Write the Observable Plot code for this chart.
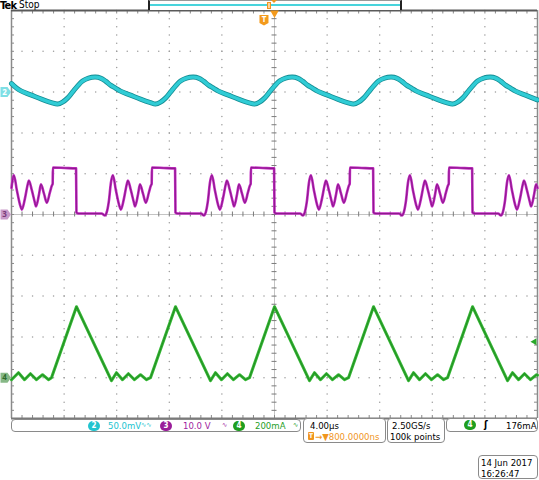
<!DOCTYPE html>
<html><head><meta charset="utf-8">
<script src="https://cdn.jsdelivr.net/npm/d3@7"></script>
<script src="https://cdn.jsdelivr.net/npm/@observablehq/plot@0.6"></script>
<style>
html,body{margin:0;padding:0;background:#fff;}
#wrap{position:relative;width:539px;height:480px;overflow:hidden;font-family:"DejaVu Sans Condensed","DejaVu Sans",sans-serif;font-stretch:condensed;font-size:9.5px;color:#000;}
#chart{position:absolute;left:0;top:0;}
.abs{position:absolute;white-space:nowrap;line-height:1;}
.box{position:absolute;border:1px solid #8a8a8a;border-radius:4px;box-sizing:border-box;background:#fff;}
.badge{position:absolute;height:10px;width:12px;border-radius:5px;color:#fff;font-size:8px;font-weight:bold;text-align:center;line-height:10px;}
</style></head><body>
<div id="wrap">
  <div id="chart"></div>
  <!-- top status -->
  <div class="abs" style="left:0;top:0px;font-size:11px;font-weight:bold;letter-spacing:-0.7px;">Tek</div>
  <div class="abs" style="left:19px;top:0px;font-size:10px;">Stop</div>
  <div style="position:absolute;left:148px;top:0;width:254px;height:10px;box-sizing:border-box;border-left:2px solid #222;border-right:2px solid #222;border-top:1px solid #999;background:#fff;"></div>
  <div style="position:absolute;left:150px;top:4px;width:250px;height:2px;background:#48d4dc;"></div>
  <div style="position:absolute;left:267px;top:2px;width:4px;height:7px;box-sizing:border-box;border:1px solid #f0961e;background:#fcd49a;"></div>
  <div style="position:absolute;left:271px;top:0;width:0;height:0;border-left:3px solid transparent;border-right:3px solid transparent;border-top:3px solid #f0961e;"></div>
  <!-- bottom status -->
  <div class="box" style="left:11px;top:419px;width:290px;height:13px;"></div>
  <div class="badge" style="left:88px;top:421px;background:#22c4cf;">2</div>
  <div class="abs" id="ch2lab" style="left:108px;top:421px;color:#22c4cf;"></div>
  <div class="abs" style="left:141px;top:422px;color:#22c4cf;font-size:7px;">∿∿</div>
  <div class="badge" style="left:160px;top:421px;background:#9a1e9a;">3</div>
  <div class="abs" id="ch3lab" style="left:183px;top:421px;color:#a01ca0;"></div>
  <div class="abs" style="left:222px;top:422px;color:#a01ca0;font-size:7px;">∿</div>
  <div class="badge" style="left:233px;top:421px;background:#1f9e1f;">4</div>
  <div class="abs" id="ch4lab" style="left:255px;top:421px;color:#1f9e1f;"></div>
  <div class="abs" style="left:293px;top:422px;color:#1f9e1f;font-size:7px;">∿</div>

  <div class="box" style="left:303px;top:418px;width:83px;height:25px;"></div>
  <div class="abs" id="tblab" style="left:310px;top:421px;"></div>
  <div class="abs" style="left:308px;top:432px;width:6px;height:8px;background:#f0961e;border-radius:1px;color:#fff;font-size:6.5px;font-weight:bold;text-align:center;line-height:8px;">T</div>
  <div class="abs" id="dellab" style="left:315px;top:432px;color:#f0961e;"></div>

  <div class="box" style="left:387px;top:418px;width:58px;height:25px;"></div>
  <div class="abs" id="srlab" style="left:392px;top:421px;"></div>
  <div class="abs" id="rllab" style="left:390px;top:432px;"></div>

  <div class="box" style="left:446px;top:418px;width:92px;height:14px;"></div>
  <div class="badge" style="left:464px;top:420px;background:#1f9e1f;">4</div>
  <div class="abs" style="left:484px;top:420px;font-weight:bold;font-size:10px;">ʃ</div>
  <div class="abs" id="trlab" style="left:506px;top:421px;"></div>

  <div class="box" style="left:478px;top:455px;width:60px;height:24px;"></div>
  <div class="abs" id="datelab" style="left:481px;top:458px;"></div>
  <div class="abs" id="timelab" style="left:481px;top:469px;"></div>
</div>
<script>
// ---- channel settings / labels ----
const CH2_SCALE = 50, CH2_POS = 3;     // mV/div, divisions
const CH3_SCALE = 10, CH3_POS = 0;     // V/div
const CH4_SCALE = 200, CH4_POS = -4;   // mA/div
const TRIG_LEVEL = 176;                // mA
const TRIG_TIME = -0.8;                // µs (relative to screen centre)
const labels = {ch2lab:"50.0mV", ch3lab:"10.0 V", ch4lab:"200mA", tblab:"4.00µs",
  dellab:"→▼800.0000ns", srlab:"2.50GS/s", rllab:"100k points", trlab:"176mA",
  datelab:"14 Jun 2017", timelab:"16:26:47"};

// ---- channel 2 (mV) ----
const ch2Time = [-20.00,-19.62,-19.24,-18.48,-17.72,-16.96,
 -16.50,-16.12,-15.74,-15.36,-14.98,-14.60,-14.14,-13.61,-13.23,-12.85,-12.47,-12.09,-11.71,-10.95,-10.19,-9.43,
 -9.05,-8.67,-8.29,-7.91,-7.53,-7.15,-6.69,-6.16,-5.78,-5.40,-5.02,-4.64,-4.26,-3.50,-2.74,-1.98,
 -1.52,-1.14,-0.76,-0.38,0.00,0.38,0.84,1.37,1.75,2.13,2.51,2.89,3.27,4.03,4.79,5.55,
 6.01,6.39,6.77,7.15,7.53,7.91,8.37,8.90,9.28,9.66,10.04,10.42,10.80,11.56,12.32,13.08,
 13.54,13.92,14.30,14.68,15.06,15.44,15.90,16.43,16.81,17.19,17.57,17.95,18.33,19.09,19.85,20.00];
const ch2mV = [10.5,4.9,1.2,-3.7,-8.6,-12.9,
 -14.7,-12.3,-7.4,0,7.4,13.5,17.2,18.4,17.2,13.5,8.6,4.9,1.2,-3.7,-8.6,-12.9,
 -14.7,-12.3,-7.4,0,7.4,13.5,17.2,18.4,17.2,13.5,8.6,4.9,1.2,-3.7,-8.6,-12.9,
 -14.7,-12.3,-7.4,0,7.4,13.5,17.2,18.4,17.2,13.5,8.6,4.9,1.2,-3.7,-8.6,-12.9,
 -14.7,-12.3,-7.4,0,7.4,13.5,17.2,18.4,17.2,13.5,8.6,4.9,1.2,-3.7,-8.6,-12.9,
 -14.7,-12.3,-7.4,0,7.4,13.5,17.2,18.4,17.2,13.5,8.6,4.9,1.2,-3.7,-8.6,-9.5];

// ---- channel 3 (V) ----
const ch3Time = [-20.00,-19.82,-19.59,-19.36,-19.21,-18.98,-18.75,-18.68,-18.45,-18.22,-18.14,-17.91,-17.76,-17.53,-17.31,-17.08,-16.93,-16.87,-16.85,-15.95,-15.09,-15.06,-14.90,-13.15,
 -12.89,-12.82,-12.59,-12.44,-12.29,-12.06,-11.83,-11.68,-11.45,-11.22,-11.15,-10.92,-10.69,-10.61,-10.38,-10.23,-10.00,-9.78,-9.55,-9.40,-9.34,-9.32,-8.42,-7.56,-7.53,-7.37,-5.59,
 -5.36,-5.29,-5.06,-4.91,-4.76,-4.53,-4.30,-4.15,-3.92,-3.69,-3.62,-3.39,-3.16,-3.08,-2.85,-2.70,-2.47,-2.25,-2.02,-1.87,-1.81,-1.79,-0.89,-0.03,0.00,0.16,1.94,
 2.17,2.24,2.47,2.62,2.77,3.00,3.23,3.38,3.61,3.84,3.91,4.14,4.37,4.45,4.68,4.83,5.06,5.28,5.51,5.66,5.72,5.74,6.64,7.50,7.53,7.69,9.47,
 9.70,9.77,10.00,10.15,10.30,10.53,10.76,10.91,11.14,11.37,11.44,11.67,11.90,11.98,12.21,12.36,12.59,12.81,13.04,13.19,13.25,13.27,14.17,15.03,15.06,15.22,17.00,
 17.23,17.30,17.53,17.68,17.83,18.06,18.29,18.44,18.67,18.90,18.97,19.20,19.43,19.51,19.74,19.89,20.00];
const ch3Volt = [6.5,9.6,5.9,2.5,1.2,3.9,7.6,8.3,5.9,2.9,2.0,4.9,7.4,5.1,2.9,5.4,7.1,7.5,11.5,11.4,11.3,0.5,0.25,0.25,
 -0.25,0,3.4,7.8,9.6,5.9,2.5,1.2,3.9,7.6,8.3,5.9,2.9,2.0,4.9,7.4,5.1,2.9,5.4,7.1,7.5,11.5,11.4,11.3,0.5,0.25,0.25,
 -0.25,0,3.4,7.8,9.6,5.9,2.5,1.2,3.9,7.6,8.3,5.9,2.9,2.0,4.9,7.4,5.1,2.9,5.4,7.1,7.5,11.5,11.4,11.3,0.5,0.25,0.25,
 -0.25,0,3.4,7.8,9.6,5.9,2.5,1.2,3.9,7.6,8.3,5.9,2.9,2.0,4.9,7.4,5.1,2.9,5.4,7.1,7.5,11.5,11.4,11.3,0.5,0.25,0.25,
 -0.25,0,3.4,7.8,9.6,5.9,2.5,1.2,3.9,7.6,8.3,5.9,2.9,2.0,4.9,7.4,5.1,2.9,5.4,7.1,7.5,11.5,11.4,11.3,0.5,0.25,0.25,
 -0.25,0,3.4,7.8,9.6,5.9,2.5,1.2,3.9,7.6,8.3,5.9,2.9,2.0,4.9,7.4,6.5];

// ---- channel 4 (mA) ----
const ch4Time = [-20.00,-19.47,-19.01,-18.56,-18.10,-17.64,-17.19,-16.96,-15.06,
 -12.40,-12.02,-11.56,-11.11,-10.65,-10.19,-9.74,-9.43,-7.53,
 -4.87,-4.49,-4.03,-3.58,-3.12,-2.66,-2.21,-1.90,0.00,
 2.66,3.04,3.50,3.95,4.41,4.87,5.32,5.63,7.53,
 10.19,10.57,11.03,11.48,11.94,12.40,12.85,13.16,15.06,
 17.72,18.10,18.56,19.01,19.47,19.93,20.00];
const ch4mA = [-9.8,24.5,-9.8,19.6,-9.8,14.7,-9.8,0,348,
 -14.7,24.5,-9.8,19.6,-9.8,14.7,-9.8,0,348,
 -14.7,24.5,-9.8,19.6,-9.8,14.7,-9.8,0,348,
 -14.7,24.5,-9.8,19.6,-9.8,14.7,-9.8,0,348,
 -14.7,24.5,-9.8,19.6,-9.8,14.7,-9.8,0,348,
 -14.7,24.5,-9.8,19.6,-9.8,14.7,12];

for (const [id, txt] of Object.entries(labels)) document.getElementById(id).textContent = txt;

const ch2 = ch2Time.map((t, i) => ({t, y: ch2mV[i] / CH2_SCALE + CH2_POS}));
const ch3 = ch3Time.map((t, i) => ({t, y: ch3Volt[i] / CH3_SCALE + CH3_POS}));
const ch4 = ch4Time.map((t, i) => ({t, y: ch4mA[i] / CH4_SCALE + CH4_POS}));

// graticule
const W = 539, H = 420, mT = 10, mB = 2, mL = 11, mR = 2;
const pxX = 40 / (W - mL - mR), pxY = 10 / (H - mT - mB);
const yTicks = d3.range(-5, 5.0001, 0.2);
const xTicks = d3.range(-20, 20.0001, 0.8);
const majors = [-4, -3, -2, -1, 1, 2, 3, 4];
const gridDots = [];
for (const d of majors) for (const y of yTicks) gridDots.push({x: d * 4, y});
for (const d of majors) for (const x of xTicks) gridDots.push({x, y: d});

const tagSymbol = {draw(ctx) { ctx.moveTo(-5, -5); ctx.lineTo(2, -5); ctx.lineTo(5.5, 0); ctx.lineTo(2, 5); ctx.lineTo(-5, 5); ctx.closePath(); }};
const badgeSymbol = {draw(ctx) { ctx.moveTo(-4.5, -5); ctx.lineTo(4.5, -5); ctx.lineTo(4.5, 3); ctx.lineTo(0, 5.5); ctx.lineTo(-4.5, 3); ctx.closePath(); }};
const tags = [
  {y: CH2_POS, label: "2", fill: "#7edfe5", color: "#ffffff"},
  {y: CH3_POS, label: "3", fill: "#c99ac9", color: "#7a3a7a"},
  {y: CH4_POS, label: "4", fill: "#86b886", color: "#2d6a2d"}
];

const plot = Plot.plot({
  width: W, height: H, marginTop: mT, marginBottom: mB, marginLeft: mL, marginRight: mR,
  x: {domain: [-20, 20], axis: null},
  y: {domain: [-5, 5], axis: null},
  style: {background: "#fff", overflow: "visible"},
  marks: [
    Plot.dot(gridDots, {x: "x", y: "y", r: 0.75, fill: "#9c9c9c", stroke: null}),
    Plot.ruleX([0], {stroke: "#c4c4c4", strokeWidth: 1}),
    Plot.ruleY([0], {stroke: "#c4c4c4", strokeWidth: 1}),
    Plot.ruleY(yTicks, {y: d => d, x1: -2.5 * pxX, x2: 2.5 * pxX, stroke: "#7a7a7a"}),
    Plot.ruleX(xTicks, {x: d => d, y1: -2.5 * pxY, y2: 2.5 * pxY, stroke: "#7a7a7a"}),
    Plot.ruleY(yTicks, {y: d => d, x1: -20, x2: -20 + 3 * pxX, stroke: "#8a8a8a"}),
    Plot.ruleY(yTicks, {y: d => d, x1: 20 - 3 * pxX, x2: 20, stroke: "#8a8a8a"}),
    Plot.ruleX(xTicks, {x: d => d, y1: 5, y2: 5 - 3.5 * pxY, stroke: "#8a8a8a"}),
    Plot.ruleX(xTicks, {x: d => d, y1: -5, y2: -5 + 3 * pxY, stroke: "#8a8a8a"}),
    Plot.ruleX([-20], {stroke: "#8a8a8a", strokeWidth: 1.5}),
    Plot.ruleX([20], {stroke: "#8a8a8a", strokeWidth: 1.5}),
    Plot.ruleY([5], {stroke: "#5a5a5a", strokeWidth: 2}),
    Plot.ruleY([-5], {stroke: "#7a7a7a", strokeWidth: 2}),
    // traces
    Plot.line(ch2, {x: "t", y: "y", stroke: "#138c93", strokeWidth: 5, curve: "catmull-rom"}),
    Plot.line(ch2, {x: "t", y: "y", stroke: "#30ccd5", strokeWidth: 3.4, curve: "catmull-rom"}),
    Plot.line(ch3, {x: "t", y: "y", stroke: "#c42cc4", strokeWidth: 2.6, curve: "monotone-x"}),
    Plot.line(ch3, {x: "t", y: "y", stroke: "#761276", strokeWidth: 1.1, strokeOpacity: 0.7, curve: "monotone-x"}),
    Plot.line(ch4, {x: "t", y: "y", stroke: "#36b836", strokeWidth: 3}),
    Plot.line(ch4, {x: "t", y: "y", stroke: "#1d861d", strokeWidth: 1.1, strokeOpacity: 0.75}),
    // channel tags
    Plot.dot(tags, {x: -20, y: "y", dx: -6, symbol: tagSymbol, r: 5, fill: "fill", stroke: null}),
    Plot.text(tags, {x: -20, y: "y", dx: -7, text: "label", fill: "color", fontSize: 8, fontWeight: "bold"}),
    // trigger markers
    Plot.dot([TRIG_TIME], {x: d => d, y: 5, dy: 9.5, symbol: badgeSymbol, r: 5, fill: "#f39a1c", stroke: null}),
    Plot.text([TRIG_TIME], {x: d => d, y: 5, dy: 9, text: () => "T", fill: "#fff", fontSize: 8, fontWeight: "bold"}),
    Plot.dot([0], {x: d => d, y: 5, dy: 2.5, symbol: "triangle", rotate: 180, r: 3.2, fill: "#f39a1c", stroke: null}),
    Plot.dot([TRIG_LEVEL], {x: 20, y: d => d / CH4_SCALE + CH4_POS, dx: -3, symbol: "triangle", rotate: -90, r: 2.6, fill: "#2aa82a", stroke: null})
  ]
});
document.getElementById("chart").append(plot);
</script>
</body></html>
